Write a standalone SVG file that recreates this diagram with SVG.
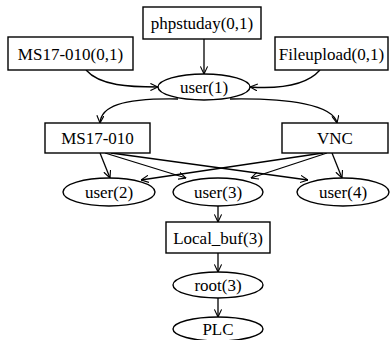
<svg xmlns="http://www.w3.org/2000/svg" width="391" height="340" viewBox="0 0 391 340">
<style>
.n rect, .n ellipse { fill: #fff; stroke: #000; stroke-width: 1.4; }
.n text { font-family: "Liberation Serif", "Times New Roman", serif; font-size: 17px; text-anchor: middle; fill: #000; }
#edges path { fill: none; stroke: #000; stroke-width: 1.3; marker-end: url(#arr); }
</style>
<defs>
<marker id="arr" viewBox="0 0 10 10" refX="9.5" refY="5" markerWidth="8" markerHeight="8" markerUnits="userSpaceOnUse" orient="auto">
<path d="M0,0.5 L9.5,5 L0,9.5" fill="none" stroke="#000" stroke-width="1.4"/>
</marker>
</defs>
<rect width="391" height="340" fill="#fff"/>
<g id="edges">
<path d="M204,39 L204,74"/>
<path d="M86,70 C100,86 130,87 158,87"/>
<path d="M320,70 C306,86 280,89 250,87"/>
<path d="M178,99 C120,98 101,107 100,123"/>
<path d="M230,99 C290,98 333,105 337,123"/>
<path d="M100,153 L110,178"/>
<path d="M105,153 L186,178"/>
<path d="M111,153 L308,180"/>
<path d="M323,153 L141,180"/>
<path d="M327,153 L251,178"/>
<path d="M332,153 L342,178"/>
<path d="M218,206 L218,222"/>
<path d="M218,253 L218,272"/>
<path d="M218,298 L218,317"/>
</g>
<g id="phpstuday" class="n"><rect x="143" y="7" width="118" height="32"/><text x="202" y="29">phpstuday(0,1)</text></g>
<g id="ms17010_01" class="n"><rect x="8" y="37" width="125" height="33"/><text x="70.5" y="59.5">MS17-010(0,1)</text></g>
<g id="fileupload" class="n"><rect x="275" y="37" width="113" height="33"/><text x="331.5" y="59.5">Fileupload(0,1)</text></g>
<g id="user1" class="n"><ellipse cx="204" cy="87" rx="46" ry="13"/><text x="204" y="93">user(1)</text></g>
<g id="ms17010" class="n"><rect x="45" y="123" width="105" height="30"/><text x="97.5" y="144">MS17-010</text></g>
<g id="vnc" class="n"><rect x="282" y="123" width="106" height="30"/><text x="335" y="144">VNC</text></g>
<g id="user2" class="n"><ellipse cx="109" cy="192" rx="46" ry="14"/><text x="109" y="198">user(2)</text></g>
<g id="user3" class="n"><ellipse cx="218" cy="192" rx="45" ry="14"/><text x="218" y="198">user(3)</text></g>
<g id="user4" class="n"><ellipse cx="343" cy="192" rx="46" ry="14"/><text x="343" y="198">user(4)</text></g>
<g id="localbuf" class="n"><rect x="166" y="222" width="104" height="31"/><text x="218" y="243.5">Local_buf(3)</text></g>
<g id="root3" class="n"><ellipse cx="218" cy="285" rx="45" ry="13"/><text x="218" y="291">root(3)</text></g>
<g id="plc" class="n"><ellipse cx="218" cy="329" rx="45" ry="12"/><text x="218" y="335">PLC</text></g>
</svg>
